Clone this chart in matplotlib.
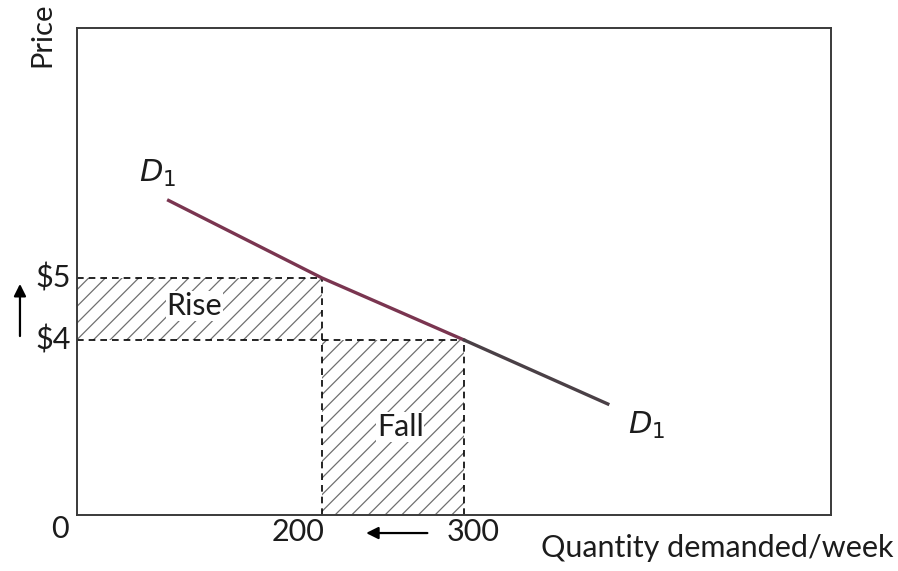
import matplotlib.pyplot as plt
from matplotlib.patches import Rectangle

plt.rcParams['font.family'] = ['Lato', 'DejaVu Sans']
plt.rcParams['hatch.linewidth'] = 0.9

# values
quantities = [200, 300]      # quantity demanded at the two prices
prices = [5, 4]              # $5 -> 200, $4 -> 300
demand_q = [92, 200, 300, 401]
demand_p = [6.25, 5, 4, 2.97]

x_min, x_max = 27.5, 558
y_min, y_max = 1.18, 9.03

fig = plt.figure(figsize=(8.98, 5.71), dpi=100)
ax = fig.add_axes([0.0857, 0.098, 0.8396, 0.853])
ax.set_xlim(x_min, x_max)
ax.set_ylim(y_min, y_max)
ax.set_xticks([])
ax.set_yticks([])
for s in ax.spines.values():
    s.set_color('#3a3a3a')
    s.set_linewidth(1.4)

q_hi, q_lo = quantities
p_hi, p_lo = prices

# hatched areas
ax.add_patch(Rectangle((x_min, p_lo), q_hi - x_min, p_hi - p_lo, fill=False,
                       hatch='//', edgecolor='#707070', linewidth=0))
ax.add_patch(Rectangle((q_hi, y_min), q_lo - q_hi, p_lo - y_min, fill=False,
                       hatch='//', edgecolor='#707070', linewidth=0))

# dashed guides
dash = dict(color='black', linestyle=(0, (4, 3)), linewidth=1.2)
ax.plot([x_min, q_hi], [p_hi, p_hi], **dash)
ax.plot([q_hi, q_hi], [y_min, p_hi], **dash)
ax.plot([x_min, q_lo], [p_lo, p_lo], **dash)
ax.plot([q_lo, q_lo], [y_min, p_lo], **dash)

# demand curve
ax.plot(demand_q[:3], demand_p[:3], color='#7a3550', linewidth=2.4)
ax.plot(demand_q[2:], demand_p[2:], color='#4a4046', linewidth=2.4)

fs = 22
tc = '#1c1c1c'
ax.text(110, 4.55, 'Rise', fontsize=fs, ha='center', va='center', color=tc,
        bbox=dict(facecolor='white', edgecolor='none', pad=0.5))
ax.text(255, 2.6, 'Fall', fontsize=fs, ha='center', va='center', color=tc,
        bbox=dict(facecolor='white', edgecolor='none', pad=0.5))
ax.text(84, 6.68, '$D_1$', fontsize=fs, ha='center', va='center', color=tc)
ax.text(428, 2.63, '$D_1$', fontsize=fs, ha='center', va='center', color=tc)

# price labels and arrow
ax.text(23.5, p_hi, r'\$5', fontsize=fs, ha='right', va='center', color=tc)
ax.text(23.5, p_lo, r'\$4', fontsize=fs, ha='right', va='center', color=tc)
ax.annotate('', xy=(-12.6, p_hi - 0.05), xytext=(-12.6, p_lo + 0.02), xycoords='data',
            arrowprops=dict(arrowstyle='-|>', color='black', lw=1.6, mutation_scale=18),
            annotation_clip=False)

# quantity labels and arrow
ax.text(x_min - 12, 0.95, '0', fontsize=fs, ha='center', va='center', color=tc)
ax.text(q_hi - 17, 0.9, str(q_hi), fontsize=fs, ha='center', va='center', color=tc)
ax.text(q_lo + 6, 0.9, str(q_lo), fontsize=fs, ha='center', va='center', color=tc)
ax.annotate('', xy=(229, 0.89), xytext=(276, 0.89), xycoords='data',
            arrowprops=dict(arrowstyle='-|>', color='black', lw=1.6, mutation_scale=18),
            annotation_clip=False)

fig.text(0.995, 0.04, 'Quantity demanded/week', fontsize=fs, ha='right', va='center', color=tc)
fig.text(0.047, 0.995, 'Price', fontsize=fs - 1, rotation=90, ha='center', va='top', color=tc)

fig.savefig('out.png', dpi=100)
